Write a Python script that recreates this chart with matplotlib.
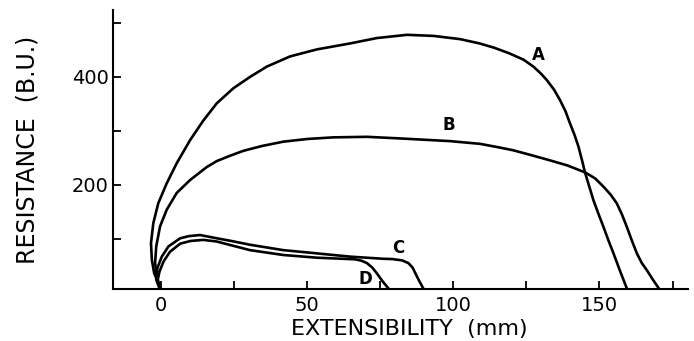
import matplotlib
matplotlib.use("Agg")
import matplotlib.pyplot as plt

# Curve A
a_x = [0, -1.0, -2.4, -3.2, -3.5, -2.7, -1.0, 1.9, 5.3, 9.9, 14.4, 19.0, 24.7, 30.4, 36.1,
       44.1, 53.3, 64.6, 73.8, 84.1, 93.2, 102.3, 109.0, 114.0, 119.0, 124.0, 127.4, 130.0,
       132.0, 134.5, 136.5, 138.4, 139.9, 141.5, 142.8, 144.0, 145.1, 146.5, 147.9, 149.6,
       151.3, 153.0, 154.8, 157.0, 159.3, 160.0]
a_y = [0, 18, 36, 61, 92, 129, 166, 203, 240, 283, 319, 351, 379, 400, 419,
       438, 451, 462, 472, 478, 476, 470, 462, 454, 444, 432, 419, 406,
       394, 376, 357, 336, 314, 292, 271, 246, 222, 197, 172, 147,
       123, 98, 73, 41, 9, 0]
# Curve B
b_x = [0, -0.4, -1.5, -2.1, -1.7, -0.4, 1.9, 5.3, 9.9, 15.6, 19.0, 23.6, 28.1, 34.5, 41.8, 50.0,
       58.9, 70.4, 81.8, 98.9, 109.1, 116.0, 120.5, 126.0, 132.0, 139.0, 145.1, 148.5, 151.3, 153.8,
       155.9, 157.7, 159.3, 161.0, 162.8, 164.5, 166.2, 168.2, 170.2, 171.0]
b_y = [0, 11, 30, 55, 86, 123, 154, 185, 209, 233, 244, 254, 263, 272, 280, 285,
       288, 289, 286, 281, 276, 269, 264, 256, 247, 236, 223, 212, 197, 182,
       166, 145, 123, 98, 73, 55, 42, 25, 9, 0]
# Curve C
c_x = [0, -1.7, -1.3, 0.2, 2.5, 6.5, 9.5, 13.3, 19.0, 24.0, 30.4, 41.8, 53.3, 64.6, 76.0,
       79.0, 82.5, 84.6, 86.0, 87.0, 88.3, 89.7, 90.3]
c_y = [0, 24, 46, 67, 86, 101, 105, 107, 101, 96, 89, 79, 73, 67, 63,
       62.5, 60, 55, 47, 36, 22, 8, 0]
# Curve D
d_x = [0, -1.3, -0.6, 0.8, 3.0, 6.5, 10.0, 14.4, 19.0, 30.4, 41.8, 53.3, 66.4,
       68.5, 70.4, 72.2, 73.8, 75.8, 77.8, 78.5]
d_y = [0, 21, 39, 58, 76, 91, 96, 98, 95, 79, 70, 65, 62,
       59.5, 55, 47, 36, 21, 8, 0]

curve_names = ["A", "B", "C", "D"]
label_x = [129.1, 98.5, 81.2, 69.8]
label_y = [441, 311, 83, 25]

x_ticks = [0, 25, 50, 75, 100, 125, 150, 175]
x_ticklabels = ["0", "", "50", "", "100", "", "150", ""]
y_ticks = [100, 200, 300, 400, 500]
y_ticklabels = ["", "200", "", "400", ""]

fig = plt.figure(figsize=(6.94, 3.41), dpi=100)
ax = fig.add_axes([113 / 694, 1 - 289 / 341, (688 - 113) / 694, (289 - 10) / 341])

for xs, ys in [(a_x, a_y), (b_x, b_y), (c_x, c_y), (d_x, d_y)]:
    ax.plot(xs, ys, color="black", lw=1.9, solid_joinstyle="round", solid_capstyle="round")

for n, lx, ly in zip(curve_names, label_x, label_y):
    ax.text(lx, ly, n, fontsize=12, fontweight="bold", ha="center", va="center")

ax.set_xlim(-16.5, 180.3)
ax.set_ylim(7, 524)
ax.spines["top"].set_visible(False)
ax.spines["right"].set_visible(False)
for s in ["left", "bottom"]:
    ax.spines[s].set_linewidth(1.5)
ax.set_xticks(x_ticks)
ax.set_xticklabels(x_ticklabels)
ax.set_yticks(y_ticks)
ax.set_yticklabels(y_ticklabels)
ax.tick_params(axis="both", direction="in", length=6, width=1.3, labelsize=14)
ax.tick_params(axis="x", pad=5)
ax.tick_params(axis="y", pad=3)

fig.text(409 / 694, 1 - 329.5 / 341, "EXTENSIBILITY  (mm)", fontsize=16,
         ha="center", va="center")
fig.text(27.5 / 694, 1 - 150 / 341, "RESISTANCE  (B.U.)", fontsize=17,
         ha="center", va="center", rotation=90)

fig.savefig("out.png", dpi=100)
